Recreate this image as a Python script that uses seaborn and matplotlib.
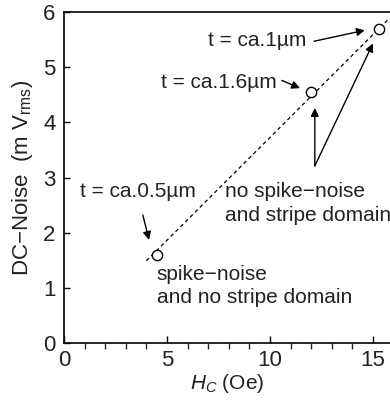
import matplotlib
matplotlib.use("Agg")
import matplotlib.pyplot as plt
import seaborn as sns
import pandas as pd
from matplotlib.ticker import MultipleLocator

# measured points (Hc in Oe, DC noise in mV rms)
hc_points = [4.5, 12.0, 15.3]
noise_points = [1.6, 4.55, 5.7]

# dashed trend line end points
line_hc = [4.0, 15.7]
line_noise = [1.49, 5.85]

sns.set_style("ticks")
plt.rcParams["font.family"] = ["Liberation Sans", "DejaVu Sans"]
plt.rcParams["mathtext.fontset"] = "custom"
plt.rcParams["mathtext.rm"] = "Liberation Sans"
plt.rcParams["mathtext.it"] = "Liberation Sans:italic"

fig = plt.figure(figsize=(3.9, 4.01), dpi=100)
ax = fig.add_axes([0.164, 0.1446, 0.836, 0.8254])

pts = pd.DataFrame({"hc": hc_points, "noise": noise_points})
line = pd.DataFrame({"hc": line_hc, "noise": line_noise})

sns.lineplot(data=line, x="hc", y="noise", ax=ax, color="black", lw=0.9,
             linestyle=(0, (3, 2.5)))
sns.scatterplot(data=pts, x="hc", y="noise", ax=ax, s=55, facecolor="white",
                edgecolor="black", linewidth=1.0, zorder=3)

ax.set_xlim(0, 15.83)
ax.set_ylim(0, 6)
ax.xaxis.set_major_locator(MultipleLocator(5))
ax.xaxis.set_minor_locator(MultipleLocator(1))
ax.yaxis.set_major_locator(MultipleLocator(1))
tc = "#222222"
ax.tick_params(direction="in", labelsize=16, width=1, color="black", labelcolor=tc)
ax.tick_params(axis="x", which="major", length=5, pad=5)
ax.tick_params(axis="x", which="minor", length=4, width=1)
ax.tick_params(axis="y", length=4, pad=6)
for side in ["left", "top", "bottom"]:
    ax.spines[side].set_linewidth(1.2)
    ax.spines[side].set_color("black")
ax.spines["right"].set_visible(False)

ax.set_xlabel("$H_C$ (Oe)", fontsize=15, labelpad=1, color=tc)
ax.set_ylabel("DC$-$Noise  (m V$_{\\rm rms}$)", fontsize=16, labelpad=6, color=tc)

fs = 15
arrow = dict(arrowstyle="-|>", lw=1.0, color="black", mutation_scale=12,
             shrinkA=0, shrinkB=0)

ax.text(6.99, 5.49, "t = ca.1µm", fontsize=fs, color=tc, ha="left", va="center")
ax.annotate("", xy=(14.61, 5.67), xytext=(12.14, 5.47), arrowprops=arrow)

ax.text(4.71, 4.73, "t = ca.1.6µm", fontsize=fs, color=tc, ha="left", va="center")
ax.annotate("", xy=(11.46, 4.62), xytext=(10.58, 4.76), arrowprops=arrow)

ax.text(0.78, 2.74, "t = ca.0.5µm", fontsize=fs, color=tc, ha="left", va="center")
ax.annotate("", xy=(4.13, 1.87), xytext=(3.83, 2.32), arrowprops=arrow)

ax.text(7.82, 2.53, "no spike−noise\nand stripe domain", fontsize=fs, color=tc,
        ha="left", va="center", linespacing=1.3)
ax.annotate("", xy=(12.18, 4.26), xytext=(12.18, 3.21), arrowprops=arrow)
ax.annotate("", xy=(15.0, 5.43), xytext=(12.18, 3.21), arrowprops=arrow)

ax.text(4.51, 1.03, "spike−noise\nand no stripe domain", fontsize=fs, color=tc,
        ha="left", va="center", linespacing=1.3)

fig.savefig("out.png", dpi=100)
